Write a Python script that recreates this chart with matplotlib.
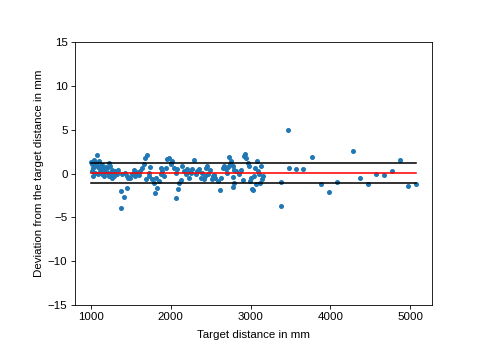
import numpy as np
import matplotlib.pyplot as plt
from matplotlib.ticker import MultipleLocator

plt.rcParams['font.family'] = ['Liberation Sans', 'DejaVu Sans']
plt.rcParams['font.size'] = 11

# target distance (mm) and deviation (mm)
distance = [
    1013, 1021, 1030, 1034, 1046, 1055, 1063, 1076, 1088, 1097, 1105, 1118,
    1139, 1147, 1160, 1172, 1181, 1202, 1214, 1223, 1231, 1244, 1265, 1265,
    1286, 1307, 1328, 1383, 1383, 1391, 1412, 1433, 1454, 1458, 1496, 1517,
    1538, 1559, 1580, 1601, 1622, 1643, 1664, 1685, 1706, 1727, 1735, 1748,
    1769, 1790, 1802, 1811, 1832, 1853, 1874, 1895, 1916, 1936, 1957, 1978,
    1999, 2020, 2041, 2062, 2071, 2083, 2096, 2104, 2146, 2167, 2188, 2209,
    2230, 2251, 2272, 2293, 2314, 2335, 2348, 2377, 2398, 2419, 2440, 2461,
    2473, 2490, 2515, 2532, 2557, 2587, 2616, 2629, 2650, 2671, 2692, 2713,
    2734, 2755, 2776, 2776, 2784, 2797, 2797, 2818, 2902, 2914, 2935, 2944,
    2965, 2986, 2998, 3019, 3028, 3049, 3061, 3082, 3091, 3112, 3120, 3145,
    3154, 3377, 3377, 3473, 3477, 3569, 3657, 3771, 3880, 3981, 4078, 4279,
    4375, 4476, 4573, 4674, 4775, 4875, 4972, 5068,
    1005, 1040, 1070, 1110, 1125, 1190, 1255, 1295, 1345, 1470, 1570, 1690,
    1880, 2010, 2125, 2240, 2360, 2430, 2545, 2700, 2745, 2860, 2880, 3000,
    3070, 3130,
]
deviation = [
    0.30, 1.06, 0.60, -0.27, 1.52, 0.11, 0.98, 2.09, 0.76, -0.08, 1.44, 0.49,
    0.95, -0.08, 0.49, -0.27, 0.19, 0.60, 0.11, 1.25, -0.27, 0.87, 0.38, -0.46,
    -0.08, 0.30, 0.00, -1.97, -3.94, -0.08, -2.73, 0.11, -0.27, -1.60, -0.46, -0.08,
    0.38, -0.27, 0.11, -0.16, 0.30, 0.60, 1.06, 1.82, 2.12, 0.11, -0.27, 0.76,
    -0.65, -1.03, -2.17, -0.46, -1.68, -0.84, -0.08, 0.30, -0.27, 0.68, 1.63, 1.82,
    1.06, 1.44, 0.68, 0.11, -2.74, 0.49, -1.79, -1.03, 0.87, 0.30, -0.08, 0.49,
    -0.46, 0.11, 0.49, 1.52, -0.08, 0.30, 0.30, -0.46, 0.11, -0.65, 0.68, 0.87,
    -0.08, 0.38, -0.65, -0.27, -0.46, -0.84, -1.87, -0.46, 0.68, 0.87, 0.49, 0.76,
    1.93, 1.44, 0.87, -1.52, -0.35, 0.38, -1.03, 0.30, -0.73, 2.01, 2.28, 1.82,
    1.25, 0.87, -0.84, -1.79, -1.90, -0.27, 0.68, 1.44, 0.30, -0.08, -1.03, -0.65,
    -0.27, -0.95, -3.76, 4.98, 0.68, 0.54, 0.54, 1.87, -1.25, -2.12, -0.98, 2.59,
    -0.49, -1.17, -0.11, -0.15, 0.27, 1.52, -1.40, -1.14,
    1.30, 0.90, 1.20, 0.20, 1.00, 0.80, 0.10, -0.30, 0.40, -0.50, 0.20, -0.60,
    0.60, 1.20, -0.70, 0.20, 0.50, -0.30, -0.20, 0.10, 1.10, -0.10, 0.40, -0.50,
    -1.20, 0.90,
]
upper_limit = 1.2
mean_dev = 0.08
lower_limit = -1.03

fig = plt.figure(figsize=(6.4, 4.8), dpi=75)
ax = fig.add_axes([0.156, 0.153, 0.744, 0.73])

ax.scatter(distance, deviation, s=14, color='#1f77b4')

x0, x1 = min(distance), max(distance)
ax.plot([x0, x1], [upper_limit, upper_limit], color='black', lw=1.5)
ax.plot([x0, x1], [mean_dev, mean_dev], color='red', lw=1.5)
ax.plot([x0, x1], [lower_limit, lower_limit], color='black', lw=1.5)

ax.set_ylim(-15, 15)
ax.xaxis.set_major_locator(MultipleLocator(1000))
ax.set_xlabel("Target distance in mm", labelpad=7)
ax.set_ylabel("Deviation from the target distance in mm")

fig.savefig("out.png")
